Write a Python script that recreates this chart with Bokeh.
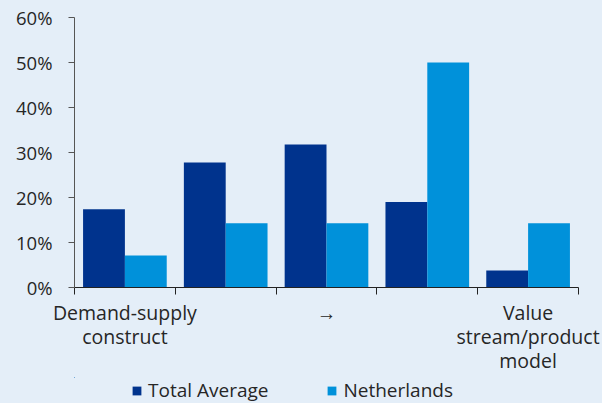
import numpy as np
from bokeh.plotting import figure
from bokeh.layouts import column
from bokeh.models import (ColumnDataSource, FixedTicker, PrintfTickFormatter,
                          Legend, LegendItem, Range1d)
from bokeh.embed import file_html
from bokeh.resources import INLINE

# ---- data ----
categories = ["Demand-supply\nconstruct", "", "\u2192", "", "Value\nstream/product\nmodel"]
total_average = [17.4, 27.8, 31.8, 19.0, 3.8]
netherlands = [7.1, 14.3, 14.3, 50.0, 14.3]
y_ticks = [0, 10, 20, 30, 40, 50, 60]
series_names = ["Total Average", "Netherlands"]

# ---- style ----
BG = "#E4EEF8"
DARK = "#00338D"
LIGHT = "#0091DA"
TXT = "#262626"
FONT = "Open Sans"

n = len(categories)
idx = np.arange(n)
bar_w = 0.415
centers = [float(i) + 0.5 for i in idx]
bounds = [float(i) for i in range(n + 1)]

src = ColumnDataSource(dict(
    x_ta=idx + 0.5 - bar_w / 2,
    x_nl=idx + 0.5 + bar_w / 2,
    ta=total_average,
    nl=netherlands,
))

p = figure(width=602, height=377, x_range=Range1d(0, n),
           y_range=Range1d(y_ticks[0], y_ticks[-1]),
           output_backend="svg", toolbar_location=None,
           min_border_left=74, min_border_right=24, min_border_top=17, min_border_bottom=88)
p.background_fill_color = BG
p.border_fill_color = BG
p.outline_line_color = None
p.xgrid.visible = False
p.ygrid.visible = False

r1 = p.vbar(x="x_ta", top="ta", width=bar_w, source=src, fill_color=DARK, line_color=None)
r2 = p.vbar(x="x_nl", top="nl", width=bar_w, source=src, fill_color=LIGHT, line_color=None)

# x axis: labels at category centres, tick marks at category boundaries
xa = p.xaxis[0]
xa.ticker = FixedTicker(ticks=centers, minor_ticks=bounds)
xa.major_label_overrides = {c: lab for c, lab in zip(centers, categories)}
xa.major_tick_out = 0
xa.major_tick_in = 0
xa.minor_tick_out = 7
xa.minor_tick_in = 0
xa.minor_tick_line_color = "#222222"
xa.axis_line_color = "#222222"
xa.major_label_standoff = 4
xa.major_label_text_font = FONT
xa.major_label_text_font_size = "19.5px"
xa.major_label_text_line_height = 0.9
xa.major_label_text_color = TXT
xa.major_label_text_align = "center"

ya = p.yaxis[0]
ya.ticker = FixedTicker(ticks=y_ticks)
ya.formatter = PrintfTickFormatter(format="%d%%")
ya.major_tick_out = 6
ya.major_tick_in = 0
ya.minor_tick_line_color = None
ya.major_tick_line_color = "#555555"
ya.axis_line_color = "#555555"
ya.major_label_standoff = 16
ya.major_label_text_font = FONT
ya.major_label_text_font_size = "18.5px"
ya.major_label_text_color = TXT

# ---- legend strip below the chart (its bars lie outside the view; only the legend shows) ----
q = figure(width=602, height=26, x_range=Range1d(2 * n, 3 * n), y_range=Range1d(-2, -1),
           output_backend="svg", toolbar_location=None,
           x_axis_location=None, y_axis_location=None,
           min_border_left=74, min_border_right=24, min_border_top=0, min_border_bottom=0)
q.background_fill_color = BG
q.border_fill_color = BG
q.outline_line_color = None
q.xgrid.visible = False
q.ygrid.visible = False
l1 = q.vbar(x="x_ta", top="ta", width=bar_w, source=src, fill_color=DARK, line_color=None)
l2 = q.vbar(x="x_nl", top="nl", width=bar_w, source=src, fill_color=LIGHT, line_color=None)

legend = Legend(items=[LegendItem(label=series_names[0], renderers=[l1]),
                       LegendItem(label=series_names[1], renderers=[l2])],
                orientation="horizontal", location=(57, 0),
                glyph_width=11, glyph_height=11, label_standoff=6, spacing=58,
                padding=0, margin=0, border_line_alpha=0, background_fill_alpha=0,
                label_text_font=FONT, label_text_font_size="19px", label_text_color=TXT)
q.add_layout(legend, "center")

layout = column(p, q, spacing=0)

html = file_html(layout, INLINE)
html = html.replace("</head>", "<style>html,body{background:%s;}</style></head>" % BG, 1)
open("out.html", "w").write(html)
